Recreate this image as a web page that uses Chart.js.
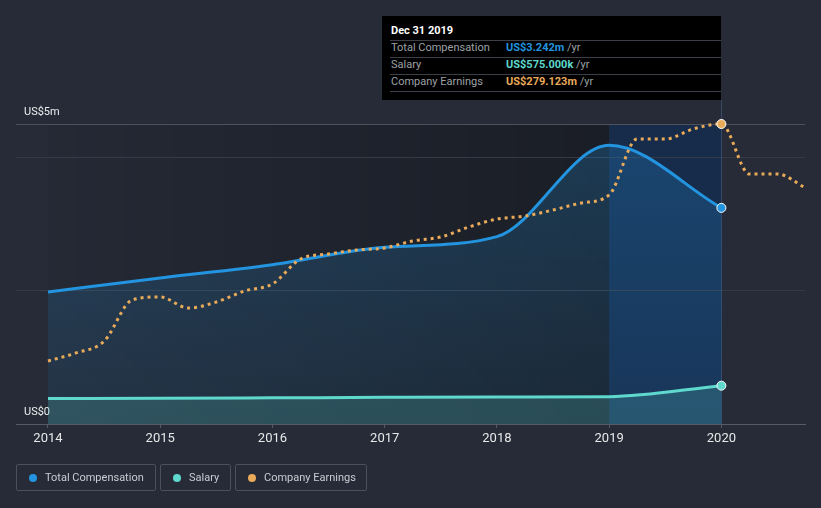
<!DOCTYPE html>
<html><head><meta charset="utf-8">
<script src="https://cdn.jsdelivr.net/npm/chart.js@4"></script>
<style>
html,body{margin:0;padding:0;background:#262b37;}
#wrap{position:relative;width:821px;height:508px;overflow:hidden;font-family:Roboto,"Noto Sans",sans-serif;}
canvas{position:absolute;left:0;top:0;}
#tip{position:absolute;left:382px;top:16px;width:339px;height:84px;background:#000;font-size:11px;}
#tip .t{position:absolute;left:9px;top:8px;color:#fff;font-weight:bold;line-height:14px;}
#tip .sep{position:absolute;left:8px;right:0;height:1px;background:#3c3f45;}
#tip .lab{position:absolute;left:9px;color:#9da0a6;line-height:14px;}
#tip .val{position:absolute;left:124px;line-height:14px;font-weight:bold;}
#tip .val span{font-weight:normal;color:#9da0a6;}
.lg{position:absolute;top:464px;height:25px;border:1px solid #4a505c;border-radius:2px;box-sizing:content-box;color:#c9ccd2;font-size:11px;line-height:25px;}
.lg i{position:absolute;left:12px;top:9px;width:8px;height:8px;border-radius:50%;}
.lg b{position:absolute;left:28px;top:0;font-weight:normal;white-space:nowrap;}
</style></head>
<body><div id="wrap">
<canvas id="c" width="821" height="508"></canvas>
<div id="tip"></div>
<div id="legend"></div>
</div>
<script>
const years = [2014, 2015, 2016, 2017, 2018, 2019, 2020];
const totalComp = [1.98, 2.19, 2.39, 2.65, 2.81, 4.18, 3.242]; // US$ millions
const salary = [0.383, 0.385, 0.392, 0.400, 0.405, 0.410, 0.575]; // US$ millions
const earningsDates = [2014, 2014.25, 2014.5, 2014.75, 2015, 2015.25, 2015.5, 2015.75,
  2016, 2016.25, 2016.5, 2016.75, 2017, 2017.25, 2017.5, 2017.75,
  2018, 2018.25, 2018.5, 2018.75, 2019, 2019.25, 2019.5, 2019.75,
  2020, 2020.25, 2020.5, 2020.75];
const earnings = [58.6, 66.1, 77.0, 115.4, 118.2, 107.9, 113.5, 123.7,
  130.3, 153.5, 158.2, 161.9, 163.8, 170.3, 174.0, 183.3,
  190.7, 193.5, 199.1, 205.6, 213.1, 265.2, 265.2, 274.5,
  279.123, 232.6, 232.6, 219.6]; // US$ millions
const yTickValues = [0, 2, 4, 4.5];
const yTickLabels = ['US$0', '', '', 'US$5m'];
const seriesNames = ['Total Compensation', 'Salary', 'Company Earnings'];
const seriesColors = ['#2394df', '#5fd8cd', '#e9aa5a'];
const tooltipTitle = 'Dec 31 2019';
const tooltipValues = ['US$3.242m', 'US$575.000k', 'US$279.123m'];

// tooltip html
const tip = document.getElementById('tip');
let th = '<div class="t">' + tooltipTitle + '</div>';
[24, 41, 58, 75].forEach(y => th += '<div class="sep" style="top:' + y + 'px"></div>');
seriesNames.forEach((n, i) => {
  const top = 25 + i * 17;
  th += '<div class="lab" style="top:' + top + 'px">' + n + '</div>';
  th += '<div class="val" style="top:' + top + 'px;color:' + seriesColors[i] + '">' + tooltipValues[i] + ' <span>/yr</span></div>';
});
tip.innerHTML = th;

// legend html
const lgLeft = [16, 160, 235];
const lgWidth = [138, 69, 130];
let lh = '';
seriesNames.forEach((n, i) => {
  lh += '<div class="lg" style="left:' + lgLeft[i] + 'px;width:' + lgWidth[i] + 'px"><i style="background:' + seriesColors[i] + '"></i><b>' + n + '</b></div>';
});
document.getElementById('legend').innerHTML = lh;

const lastIdx = years.length - 1;
const earnHi = earningsDates.indexOf(2020);

const shade = {
  id: 'shade',
  beforeDraw(chart) {
    const {ctx, chartArea: a, scales: {x}} = chart;
    const x0 = x.getPixelForValue(2014), x1 = x.getPixelForValue(2019), x2 = x.getPixelForValue(2020);
    ctx.save();
    const g = ctx.createLinearGradient(x0, 0, x1, 0);
    g.addColorStop(0, 'rgba(0,0,0,0.03)');
    g.addColorStop(1, 'rgba(0,0,0,0.3)');
    ctx.fillStyle = g;
    ctx.fillRect(x0, a.top, x1 - x0, a.bottom - a.top);
    ctx.fillStyle = '#172c4b';
    ctx.fillRect(x1, a.top, x2 - x1, a.bottom - a.top);
    ctx.restore();
  },
  beforeDatasetsDraw(chart) {
    const {ctx, chartArea: a, scales: {x}} = chart;
    const x2 = Math.round(x.getPixelForValue(2020)) + 0.5;
    ctx.save();
    ctx.strokeStyle = 'rgba(70,100,140,0.55)';
    ctx.lineWidth = 1;
    ctx.beginPath();
    ctx.moveTo(x2, 100);
    ctx.lineTo(x2, a.bottom);
    ctx.stroke();
    ctx.restore();
  }
};

const ctx = document.getElementById('c').getContext('2d');
const compGrad = (c) => {
  const a = c.chart.chartArea;
  if (!a) return 'rgba(35,148,223,0.15)';
  const g = c.chart.ctx.createLinearGradient(0, a.top, 0, a.bottom);
  g.addColorStop(0, 'rgba(35,148,223,0.25)');
  g.addColorStop(1, 'rgba(35,148,223,0.09)');
  return g;
};

new Chart(ctx, {
  type: 'line',
  data: {
    datasets: [
      {
        label: seriesNames[2], yAxisID: 'y2', order: 0,
        data: earningsDates.map((d, i) => ({x: d, y: earnings[i]})),
        borderColor: seriesColors[2], borderWidth: 3, borderDash: [3, 4],
        cubicInterpolationMode: 'monotone', fill: false, clip: false,
        pointRadius: c => c.dataIndex === earnHi ? 4.5 : 0,
        pointBackgroundColor: seriesColors[2], pointBorderColor: '#fff', pointBorderWidth: 1
      },
      {
        label: seriesNames[1], yAxisID: 'y', order: 1,
        data: years.map((d, i) => ({x: d, y: salary[i]})),
        borderColor: seriesColors[1], borderWidth: 3,
        backgroundColor: 'rgba(95,216,205,0.2)', fill: 'origin',
        cubicInterpolationMode: 'monotone', clip: false,
        pointRadius: c => c.dataIndex === lastIdx ? 4.5 : 0,
        pointBackgroundColor: seriesColors[1], pointBorderColor: '#fff', pointBorderWidth: 1
      },
      {
        label: seriesNames[0], yAxisID: 'y', order: 2,
        data: years.map((d, i) => ({x: d, y: totalComp[i]})),
        borderColor: seriesColors[0], borderWidth: 3,
        backgroundColor: compGrad, fill: 'origin',
        cubicInterpolationMode: 'monotone', clip: false,
        pointRadius: c => c.dataIndex === lastIdx ? 4.5 : 0,
        pointBackgroundColor: seriesColors[0], pointBorderColor: '#fff', pointBorderWidth: 1
      }
    ]
  },
  options: {
    responsive: false, animation: false,
    layout: {padding: {top: 124, right: 16, left: 0, bottom: 0}},
    plugins: {legend: {display: false}, tooltip: {enabled: false}},
    scales: {
      x: {
        type: 'linear', min: 2013.715, max: 2020.745,
        afterBuildTicks: s => { s.ticks = years.map(v => ({value: v})); },
        afterFit: s => { s.height = 84; },
        border: {display: true, color: '#555b67', width: 1},
        grid: {drawOnChartArea: false, drawTicks: true, tickLength: 4, color: '#555b67'},
        ticks: {color: '#e8e8e8', padding: 3, maxRotation: 0,
          font: {family: '"Liberation Sans Narrow", Roboto, sans-serif', size: 13},
          callback: v => String(v)}
      },
      y: {
        position: 'left', min: 0, max: 4.5,
        afterBuildTicks: s => { s.ticks = yTickValues.map(v => ({value: v})); },
        afterFit: s => { s.width = 16; },
        border: {display: false},
        grid: {drawTicks: false, color: c => c.tick && c.tick.value === 4.5 ? '#4b515d' : (c.tick && c.tick.value === 0 ? 'rgba(0,0,0,0)' : '#343a47')},
        ticks: {mirror: true, padding: 8, labelOffset: -12, color: '#eeeeee',
          font: {family: 'Roboto, sans-serif', size: 11},
          callback: (v) => { const i = yTickValues.indexOf(v); return i >= 0 ? yTickLabels[i] : ''; }}
      },
      y2: {display: false, min: 0, max: 279.123}
    }
  },
  plugins: [shade]
});
</script>
</body></html>
